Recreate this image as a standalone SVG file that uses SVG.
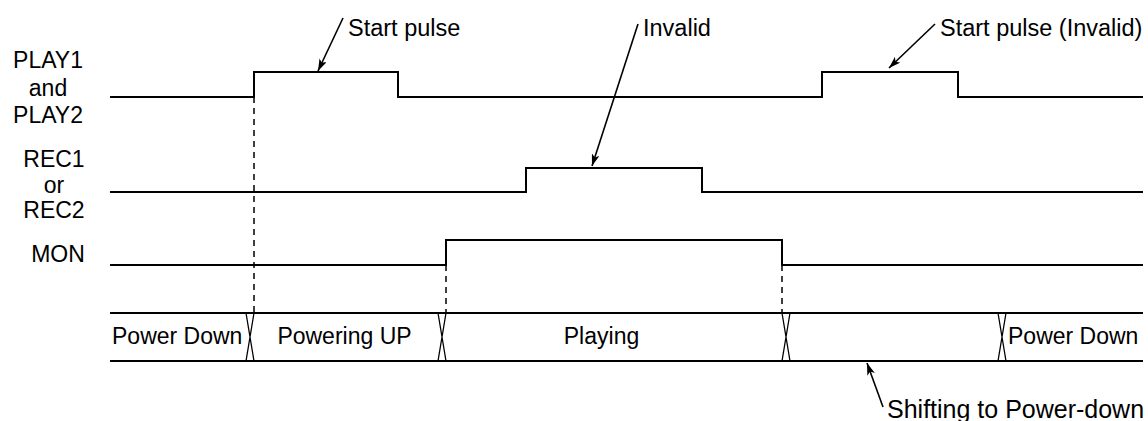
<svg xmlns="http://www.w3.org/2000/svg" width="1148" height="421" viewBox="0 0 1148 421">
<style>
.t{font-family:"Liberation Sans",Arial,sans-serif;font-size:23px;fill:#000}
.n{font-size:23.5px}
.s{font-size:25px}
.m{text-anchor:middle}
.w{fill:none;stroke:#000;stroke-width:2}
.d{fill:none;stroke:#000;stroke-width:1.5;stroke-dasharray:6 5}
.x{fill:none;stroke:#000;stroke-width:1.3}
.a{fill:none;stroke:#000;stroke-width:1.6}
</style>
<defs>
<marker id="ah" viewBox="0 0 12 8" refX="12" refY="4" markerWidth="12" markerHeight="8" markerUnits="userSpaceOnUse" orient="auto">
<path d="M0,0 L12,4 L0,8 L3,4 Z" fill="#000"/>
</marker>
</defs>
<rect width="1148" height="421" fill="#fff"/>
<g id="labels">
<text class="t m" x="48" y="68">PLAY1</text>
<text class="t m" x="48" y="95.5">and</text>
<text class="t m" x="48" y="123">PLAY2</text>
<text class="t m" x="54" y="167">REC1</text>
<text class="t m" x="54" y="193">or</text>
<text class="t m" x="54" y="218">REC2</text>
<text class="t m" x="58" y="262">MON</text>
</g>
<g id="play">
<path class="w" d="M110,97 H254 V72 H398 V97 H822 V72 H958 V97 H1143"/>
</g>
<g id="rec">
<path class="w" d="M110,192 H526 V168 H702 V192 H1143"/>
</g>
<g id="mon">
<path class="w" d="M110,265 H446 V240 H782 V265 H1143"/>
</g>
<g id="bus">
<path class="w" d="M110,313 H1143 M110,361 H1143"/>
<path class="x" d="M246,313 L254,361 M254,313 L246,361 M438,313 L446,361 M446,313 L438,361 M782,313 L790,361 M790,313 L782,361 M998,313 L1006,361 M1006,313 L998,361"/>
<text class="t" x="112" y="343.5">Power Down</text>
<text class="t m" x="344.5" y="343.5">Powering UP</text>
<text class="t m" x="601.5" y="343.5">Playing</text>
<text class="t" x="1008" y="343.5">Power Down</text>
</g>
<g id="connectors">
<path class="d" d="M254,97 V313 M446,265 V313 M782,265 V313"/>
<line class="a" x1="343" y1="18" x2="318" y2="71" marker-end="url(#ah)"/>
<line class="a" x1="638" y1="24" x2="592" y2="166" marker-end="url(#ah)"/>
<line class="a" x1="935" y1="24" x2="889" y2="68" marker-end="url(#ah)"/>
<line class="a" x1="883" y1="407" x2="867" y2="363" marker-end="url(#ah)"/>
</g>
<g id="annotations">
<text class="t n" x="348" y="36">Start pulse</text>
<text class="t n" x="643" y="36">Invalid</text>
<text class="t n" x="940" y="36">Start pulse (Invalid)</text>
<text class="t s" x="887" y="418">Shifting to Power-down</text>
</g>
</svg>
